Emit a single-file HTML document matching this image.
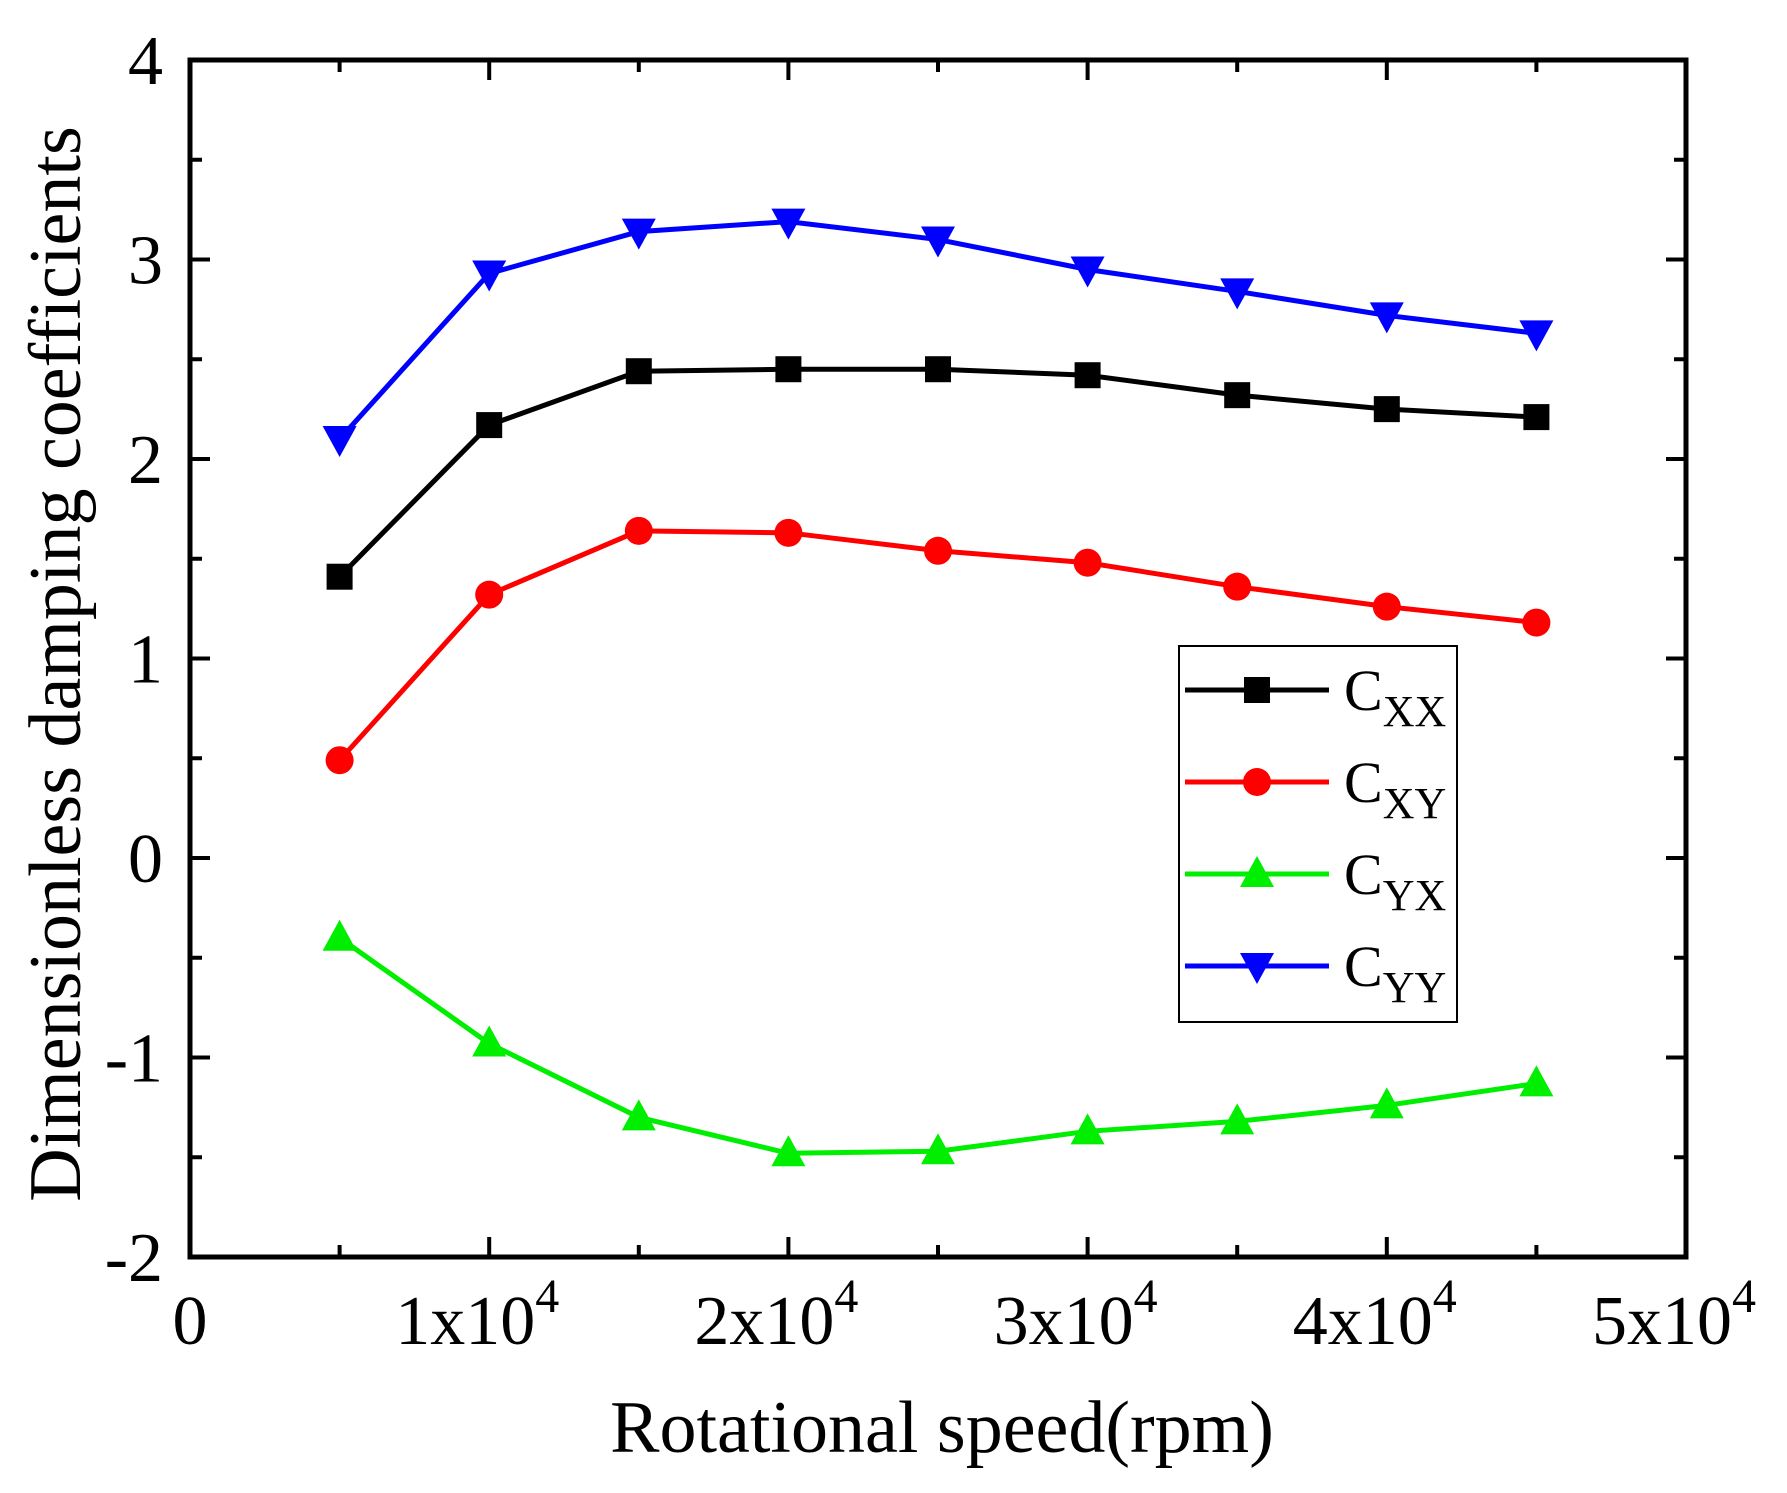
<!DOCTYPE html>
<html><head><meta charset="utf-8"><style>
html,body{margin:0;padding:0;background:#fff}
svg{display:block;font-family:"Liberation Serif",serif}
</style></head><body>
<svg id="chart" width="1787" height="1493" viewBox="0 0 1787 1493">
<g id="axes"></g>
<g id="series"></g>
<text x="942" y="1452" font-size="74" text-anchor="middle">Rotational speed(rpm)</text>
<text transform="translate(80,664) rotate(-90)" font-size="74" text-anchor="middle">Dimensionless damping coefficients</text>
<g id="legend"></g>
</svg>
<script>
const speeds=[5000,10000,15000,20000,25000,30000,35000,40000,45000];
const cxx=[1.41,2.17,2.44,2.45,2.45,2.42,2.32,2.25,2.21];
const cxy=[0.49,1.32,1.64,1.63,1.54,1.48,1.36,1.26,1.18];
const cyx=[-0.40,-0.93,-1.30,-1.48,-1.47,-1.37,-1.32,-1.24,-1.13];
const cyy=[2.10,2.93,3.14,3.19,3.10,2.95,2.84,2.72,2.63];
const yTicks=[-2,-1,0,1,2,3,4];
const xTicks=[0,10000,20000,30000,40000,50000];
const xTickLabels=["0","1x10","2x10","3x10","4x10","5x10"];
const L=190,R=1686,T=60,B=1257;
const X=v=>L+(v-0)/(50000)*(R-L);
const Y=v=>B-(v+2)/6*(B-T);
const NS="http://www.w3.org/2000/svg";
function mk(tag,attrs,parent){const e=document.createElementNS(NS,tag);for(const k in attrs)e.setAttribute(k,attrs[k]);parent.appendChild(e);return e;}
const axes=document.getElementById('axes');
const frame=mk('rect',{x:L,y:T,width:R-L,height:B-T,fill:'none',stroke:'#000','stroke-width':5},axes);


for(let v=-2;v<=4.001;v+=0.5){
  const major=Math.abs(v-Math.round(v))<1e-6;const len=major?20:12;const y=Y(v);
  const t1=mk('line',{x1:L,x2:L+len,y1:y,y2:y,stroke:'#000','stroke-width':4},axes);
  
  
  const t2=mk('line',{x1:R,x2:R-len,y1:y,y2:y,stroke:'#000','stroke-width':4},axes);
  
  
}
for(let v=0;v<=50000;v+=5000){
  const major=v%10000===0;const len=major?20:12;const x=X(v);
  const t1=mk('line',{x1:x,x2:x,y1:B,y2:B-len,stroke:'#000','stroke-width':4},axes);
  
  
  const t2=mk('line',{x1:x,x2:x,y1:T,y2:T+len,stroke:'#000','stroke-width':4},axes);
  
  
}
yTicks.forEach(v=>{
  const t=mk('text',{x:163,y:Y(v)+24,'font-size':70,'text-anchor':'end'},axes);
  t.textContent=String(v);
  
  
});
xTicks.forEach((v,i)=>{
  const t=mk('text',{x:X(v),y:1344,'font-size':70,'text-anchor':'middle'},axes);
  
  
  if(i===0){t.textContent=xTickLabels[i];}
  else{
    t.setAttribute('x',X(v)-12);
    t.textContent=xTickLabels[i];
    const s=mk('tspan',{dy:-32,'font-size':48},t);s.textContent='4';
  }
});
const seriesG=document.getElementById('series');
function marker(g,type,x,y,color){
  let e;
  if(type==='square')e=mk('rect',{x:x-13,y:y-13,width:26,height:26,fill:color},g);
  else if(type==='circle')e=mk('circle',{cx:x,cy:y,r:14,fill:color},g);
  else if(type==='up')e=mk('polygon',{points:`${x},${y-18} ${x-17},${y+13} ${x+17},${y+13}`,fill:color},g);
  else e=mk('polygon',{points:`${x},${y+18} ${x-17},${y-13} ${x+17},${y-13}`,fill:color},g);
  return e;
}
const defs=[['cxx',cxx,'#000','square'],['cxy',cxy,'#f00','circle'],['cyx',cyx,'#0e0','up'],['cyy',cyy,'#00f','down']];
defs.forEach(([name,vals,color,type])=>{
  const g=mk('g',{},seriesG);
  
  
  const pl=mk('polyline',{points:speeds.map((s,i)=>X(s)+','+Y(vals[i])).join(' '),fill:'none',stroke:color,'stroke-width':5},g);
  
  
  speeds.forEach((s,i)=>{
    const m=marker(g,type,X(s),Y(vals[i]),color);
    
    
  });
});
const leg=document.getElementById('legend');
const box=mk('rect',{x:1179,y:646,width:278,height:376,fill:'#fff',stroke:'#000','stroke-width':2},leg);


const subs=['XX','XY','YX','YY'];
defs.forEach(([name,vals,color,type],i)=>{
  const y=690+i*92;
  const g=mk('g',{},leg);
  
  
  mk('line',{x1:1185,x2:1329,y1:y,y2:y,stroke:color,'stroke-width':5},g);
  marker(g,type,1257,y,color);
  const t=mk('text',{x:1344,y:y+20,'font-size':58},g);
  t.textContent='C';
  const s=mk('tspan',{dy:16,'font-size':44},t);s.textContent=subs[i];
});
</script>
</body></html>
